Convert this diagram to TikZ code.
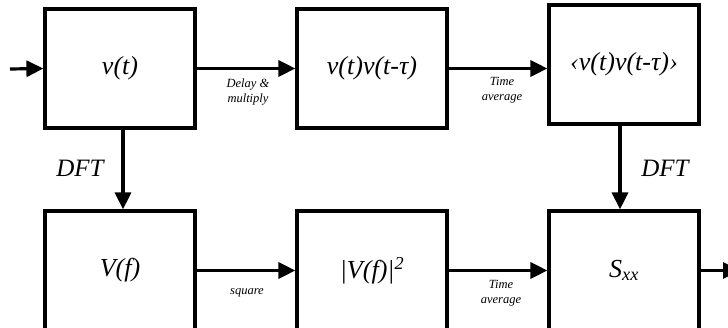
\documentclass[tikz,border=0pt]{standalone}
\usepackage{fontspec}
\setmainfont{Liberation Serif}
\usetikzlibrary{arrows.meta,positioning}

\begin{document}
\begin{tikzpicture}[x=1pt,y=-1pt,
  blk/.style={draw,line width=3.2pt,minimum width=150pt,minimum height=119pt,
              inner sep=0pt,font=\itshape\fontsize{26}{28}\selectfont},
  lbl/.style={font=\itshape\fontsize{12.5}{15}\selectfont,align=center},
  dftlbl/.style={font=\itshape\fontsize{25}{28}\selectfont},
  flow/.style={line width=3.2pt,-{Triangle[length=17pt,width=16pt]}},
]
\clip (0,0) rectangle (728,328);
% top row
\node[blk] (vt)   at (120,68.5) {v(t)};
\node[blk] (prod) at (372,68.5) {v(t)v(t-τ)};
\node[blk] (avg)  at (624,64.5) {‹v(t)v(t-τ)›};
% bottom row
\node[blk] (Vf)   at (120,270.5) {V(f)};
\node[blk] (sq)   at (372,270.5) {|V(f)|\textsuperscript{2}};
\node[blk] (Sxx)  at (624,270.5) {S\textsubscript{xx}};
% free ends
\coordinate (in)  at (10,69);
\coordinate (out) at (740,270.5);
% connectors
\draw[flow] (in) -- (vt.west);
\draw[flow] (vt) -- (prod);
\draw[flow] (prod.east) -- (prod.east -| avg.west);
\draw[flow] (Vf) -- (sq);
\draw[flow] (sq) -- (Sxx);
\draw[flow] (Sxx.east) -- (out);
\draw[flow] (vt.south -| 123,0) -- (Vf.north -| 123,0);
\draw[flow] (avg.south -| 620,0) -- (Sxx.north -| 620,0);
% labels
\node[lbl] (lbldelay) at (248,92)  {Delay \&\\multiply};
\node[lbl] (lbltime)  at (502,90)  {Time\\average};
\node[lbl] (lblsq)    at (247,293) {square};
\node[lbl] (lbltime2) at (501,293) {Time\\average};
\node[dftlbl] (dftl) at (80,168)  {DFT};
\node[dftlbl] (dftr) at (665,168) {DFT};
\end{tikzpicture}
\end{document}
